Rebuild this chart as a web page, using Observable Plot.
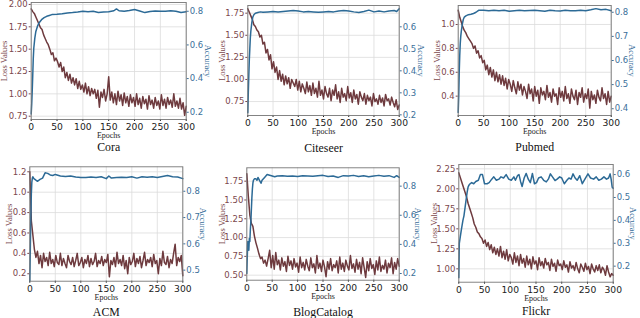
<!DOCTYPE html>
<html><head><meta charset="utf-8">
<script src="https://cdn.jsdelivr.net/npm/d3@7"></script>
<script src="https://cdn.jsdelivr.net/npm/@observablehq/plot@0.6"></script>
<style>
body{margin:0;background:#fff}
#wrap{position:relative;width:640px;height:318px;overflow:hidden;background:#fff}
#wrap svg{position:absolute}
</style>
</head><body><div id="wrap"></div>
<script>
// ---------- data ----------
const datasetNames = ["Cora","Citeseer","Pubmed","ACM","BlogCatalog","Flickr"];
const epochTicks = [0,50,100,150,200,250,300];
const lossEpochs = d3.range(0, 301, 3); // epoch index of each loss sample

const coraLoss = [1.95,1.92,1.90,1.86,1.82,1.78,1.74,1.72,1.66,1.62,
1.58,1.55,1.50,1.44,1.46,1.37,1.40,1.36,1.30,1.35,
1.25,1.30,1.18,1.24,1.15,1.22,1.12,1.18,1.10,1.17,
1.06,1.14,1.05,1.10,1.02,1.12,1.00,1.08,0.98,1.06,
1.00,1.05,0.95,1.04,0.85,1.02,0.96,1.05,0.92,1.00,
1.19,0.93,1.02,0.90,1.00,0.88,1.03,0.92,0.99,0.87,
1.01,0.90,0.97,0.86,0.99,0.90,0.96,0.86,1.00,0.88,
0.95,0.84,0.97,0.89,0.94,0.83,0.98,0.88,0.93,0.84,
0.96,0.87,0.92,0.83,0.99,0.87,0.94,0.84,0.96,0.88,
0.93,0.85,1.00,0.86,0.92,0.84,0.95,0.83,0.90,0.76,
0.86];
const coraAccEpochs = [0,1,2,3,4,5,7,9,12,15,20,25,30,35,40,50,60,70,80,90,100,110,120,130,140,150,160,165,170,180,190,200,210,220,230,240,250,260,270,280,290,300];
const coraAcc = [0.19,0.25,0.33,0.42,0.52,0.58,0.64,0.68,0.71,0.73,0.75,0.762,0.77,0.775,0.78,0.782,0.785,0.79,0.792,0.795,0.80,0.797,0.80,0.793,0.795,0.797,0.803,0.814,0.803,0.80,0.804,0.81,0.802,0.792,0.798,0.802,0.80,0.80,0.803,0.80,0.793,0.797];

const citeseerLoss = [1.80,1.76,1.72,1.68,1.62,1.60,1.56,1.54,1.48,1.50,
1.40,1.42,1.30,1.34,1.22,1.28,1.12,1.20,1.08,1.14,
1.00,1.10,0.98,1.06,0.94,1.04,0.95,1.02,0.90,1.00,
0.96,0.92,1.00,0.88,0.98,0.86,0.95,0.90,0.84,0.97,
0.86,0.93,0.82,0.96,0.84,0.90,0.80,0.98,0.82,0.88,
0.78,0.92,0.84,0.80,0.90,0.76,0.88,0.82,0.94,0.78,
0.86,0.74,0.90,0.80,0.84,0.76,0.92,0.79,0.85,0.74,
0.88,0.78,0.83,0.72,0.86,0.80,0.76,0.84,0.72,0.82,
0.76,0.80,0.70,0.84,0.75,0.78,0.72,0.82,0.74,0.79,
0.70,0.83,0.76,0.78,0.71,0.80,0.74,0.69,0.77,0.66,
0.71];
const citeseerAccEpochs = [0,1,2,3,4,5,6,8,10,12,15,20,25,30,40,50,60,70,80,90,100,110,120,130,140,150,160,170,180,190,200,210,220,230,240,250,260,270,280,290,295,300];
const citeseerAcc = [0.21,0.30,0.38,0.45,0.50,0.55,0.58,0.62,0.645,0.655,0.662,0.665,0.668,0.666,0.668,0.67,0.668,0.67,0.672,0.674,0.672,0.668,0.67,0.668,0.666,0.668,0.67,0.668,0.672,0.674,0.672,0.668,0.665,0.67,0.676,0.668,0.672,0.668,0.672,0.674,0.67,0.682];

const pubmedLoss = [1.12,1.06,1.02,0.98,0.95,0.93,0.90,0.88,0.86,0.84,
0.80,0.82,0.76,0.78,0.72,0.74,0.68,0.70,0.62,0.66,
0.58,0.64,0.56,0.62,0.53,0.60,0.52,0.58,0.50,0.57,
0.49,0.55,0.46,0.54,0.50,0.44,0.53,0.47,0.42,0.52,
0.45,0.50,0.41,0.48,0.44,0.38,0.50,0.42,0.46,0.36,
0.48,0.40,0.45,0.34,0.47,0.41,0.44,0.37,0.49,0.39,
0.43,0.35,0.46,0.40,0.42,0.33,0.47,0.39,0.44,0.36,
0.48,0.38,0.42,0.34,0.46,0.40,0.37,0.45,0.33,0.43,
0.39,0.47,0.35,0.42,0.38,0.46,0.30,0.44,0.37,0.41,
0.34,0.45,0.39,0.36,0.47,0.38,0.42,0.33,0.44,0.35,
0.40];
const pubmedAccEpochs = [0,1,2,3,4,5,6,8,10,12,15,20,25,30,35,40,50,60,70,80,90,100,110,120,130,140,150,160,170,180,190,200,210,220,230,240,250,260,270,280,290,300];
const pubmedAcc = [0.385,0.45,0.55,0.62,0.67,0.70,0.72,0.75,0.77,0.78,0.785,0.79,0.792,0.795,0.80,0.808,0.808,0.806,0.808,0.806,0.808,0.804,0.806,0.808,0.806,0.807,0.808,0.806,0.804,0.808,0.806,0.805,0.808,0.806,0.806,0.808,0.806,0.81,0.815,0.81,0.812,0.806];

const acmLoss = [1.20,0.72,0.58,0.44,0.36,0.42,0.30,0.38,0.26,0.40,
0.32,0.36,0.28,0.41,0.30,0.34,0.27,0.38,0.31,0.29,
0.40,0.28,0.35,0.30,0.26,0.38,0.32,0.29,0.36,0.27,
0.33,0.40,0.28,0.31,0.36,0.26,0.34,0.30,0.38,0.27,
0.35,0.29,0.32,0.40,0.27,0.33,0.30,0.37,0.28,0.34,
0.31,0.39,0.17,0.33,0.29,0.36,0.27,0.41,0.30,0.34,
0.28,0.38,0.25,0.33,0.20,0.36,0.29,0.32,0.40,0.27,
0.35,0.30,0.37,0.26,0.33,0.41,0.28,0.34,0.31,0.36,
0.27,0.39,0.30,0.33,0.20,0.35,0.28,0.42,0.31,0.29,
0.37,0.26,0.34,0.30,0.40,0.49,0.28,0.36,0.32,0.38,
0.18];
const acmAccEpochs = [0,1,2,3,4,5,6,8,10,12,15,18,20,25,30,35,40,45,50,60,70,80,90,100,110,120,130,140,150,155,160,170,180,190,200,210,220,230,240,250,260,270,280,290,300];
const acmAcc = [0.46,0.58,0.70,0.79,0.835,0.85,0.855,0.848,0.845,0.842,0.838,0.842,0.845,0.85,0.87,0.868,0.862,0.86,0.864,0.858,0.856,0.858,0.854,0.852,0.852,0.854,0.852,0.855,0.848,0.858,0.85,0.852,0.853,0.852,0.855,0.85,0.855,0.853,0.855,0.852,0.856,0.86,0.855,0.854,0.848];

const blogLoss = [1.85,1.55,1.30,1.19,1.15,1.02,0.93,0.86,0.78,0.72,
0.74,0.66,0.70,0.62,0.72,0.83,0.60,0.76,0.58,0.80,
0.64,0.70,0.57,0.73,0.62,0.68,0.55,0.75,0.63,0.69,
0.58,0.72,0.61,0.66,0.54,0.74,0.60,0.67,0.57,0.71,
0.62,0.56,0.73,0.60,0.65,0.53,0.76,0.59,0.66,0.55,
0.70,0.61,0.48,0.68,0.58,0.72,0.56,0.64,0.60,0.69,
0.53,0.74,0.58,0.66,0.55,0.70,0.62,0.57,0.76,0.59,
0.65,0.54,0.71,0.58,0.67,0.52,0.73,0.60,0.47,0.68,
0.56,0.72,0.59,0.64,0.51,0.69,0.57,0.74,0.55,0.63,
0.58,0.70,0.53,0.66,0.60,0.73,0.52,0.67,0.58,0.72,
0.62];
const blogAccEpochs = [0,1,2,3,4,5,6,7,8,9,10,11,12,13,15,18,20,22,25,28,30,35,40,45,50,55,60,70,80,90,100,110,120,130,140,150,160,170,180,190,200,210,220,230,240,250,260,270,280,290,295,300];
const blogAcc = [0.20,0.32,0.42,0.40,0.36,0.44,0.42,0.50,0.56,0.64,0.72,0.78,0.82,0.84,0.85,0.85,0.84,0.86,0.84,0.82,0.84,0.86,0.88,0.875,0.87,0.865,0.87,0.872,0.868,0.87,0.866,0.872,0.87,0.868,0.872,0.874,0.866,0.87,0.86,0.872,0.87,0.874,0.866,0.872,0.865,0.87,0.874,0.868,0.872,0.86,0.872,0.86];

const flickrLoss = [2.20,2.14,2.08,2.02,1.96,1.90,1.82,1.76,1.70,1.64,
1.56,1.52,1.46,1.44,1.40,1.38,1.32,1.36,1.28,1.33,
1.24,1.30,1.20,1.27,1.18,1.25,1.16,1.28,1.14,1.22,
1.12,1.24,1.10,1.18,1.14,1.06,1.20,1.08,1.16,1.04,
1.18,1.07,1.13,1.02,1.16,1.05,1.12,1.00,1.15,1.06,
1.10,0.99,1.14,1.04,1.09,1.01,1.13,1.05,1.08,0.98,
1.12,1.03,1.07,0.97,1.11,1.04,1.06,0.99,1.10,1.02,
1.05,0.96,1.09,1.01,1.04,0.98,1.08,1.00,0.95,1.06,
1.02,0.97,1.07,0.99,1.03,0.94,1.06,1.00,0.96,1.04,
0.98,1.05,0.95,1.02,0.99,0.92,1.04,0.96,0.90,0.94,
0.92];
const flickrAccEpochs = [0,1,3,5,8,10,13,16,18,20,22,25,29,33,38,42,46,50,55,59,64,68,73,78,82,87,92,97,102,107,110,114,117,120,123,127,131,135,139,143,147,151,155,160,165,170,174,178,182,187,191,196,200,205,210,214,218,222,226,230,235,240,245,251,256,262,267,272,277,282,287,291,294,296,298,300];
const flickrAcc = [0.15,0.30,0.33,0.36,0.40,0.42,0.47,0.52,0.545,0.555,0.56,0.565,0.56,0.57,0.575,0.60,0.60,0.56,0.56,0.565,0.58,0.59,0.575,0.58,0.59,0.585,0.60,0.58,0.575,0.59,0.575,0.595,0.60,0.57,0.548,0.585,0.605,0.58,0.565,0.605,0.56,0.565,0.585,0.59,0.575,0.568,0.58,0.603,0.59,0.574,0.58,0.59,0.585,0.56,0.575,0.585,0.58,0.603,0.585,0.575,0.595,0.56,0.58,0.603,0.585,0.58,0.59,0.575,0.58,0.59,0.58,0.585,0.603,0.58,0.545,0.54];

// tick labels
const coraLossTicks = [0.75,1.00,1.25,1.50,1.75,2.00];
const coraAccTicks = [0.2,0.4,0.6,0.8];
const citeseerLossTicks = [0.75,1.00,1.25,1.50,1.75];
const citeseerAccTicks = [0.2,0.3,0.4,0.5,0.6];
const pubmedLossTicks = [0.4,0.6,0.8,1.0];
const pubmedAccTicks = [0.4,0.5,0.6,0.7,0.8];
const acmLossTicks = [0.2,0.4,0.6,0.8,1.0,1.2];
const acmAccTicks = [0.5,0.6,0.7,0.8];
const blogLossTicks = [0.50,0.75,1.00,1.25,1.50,1.75];
const blogAccTicks = [0.2,0.4,0.6,0.8];
const flickrLossTicks = [1.00,1.25,1.50,1.75,2.00,2.25];
const flickrAccTicks = [0.2,0.3,0.4,0.5,0.6];

// ---------- layout / scales ----------
const panels = [
  {name:datasetNames[0], cx:0,   cy:0,   fx0:30.7,  fx1:185.7, fy0:2,     fy1:119,   lossDom:[0.713,2.022], accDom:[0.157,0.852], loss:coraLoss, accE:coraAccEpochs, acc:coraAcc, lt:coraLossTicks, ld:2, at:coraAccTicks, ldx:-26.7, rdx:21.3, tdy:27.7},
  {name:datasetNames[1], cx:213, cy:0,   fx0:247.3, fx1:398.7, fy0:5,     fy1:115,   lossDom:[0.592,1.837], accDom:[0.197,0.697], loss:citeseerLoss, accE:citeseerAccEpochs, acc:citeseerAcc, lt:citeseerLossTicks, ld:2, at:citeseerAccTicks, ldx:-26, rdx:21.6, tdy:32.3},
  {name:datasetNames[2], cx:425, cy:0,   fx0:457.7, fx1:610.7, fy0:5,     fy1:115,   lossDom:[0.238,1.159], accDom:[0.372,0.828], loss:pubmedLoss, accE:pubmedAccEpochs, acc:pubmedAcc, lt:pubmedLossTicks, ld:1, at:pubmedAccTicks, ldx:-21, rdx:21, tdy:31.7},
  {name:datasetNames[3], cx:0,   cy:159, fx0:29.3,  fx1:182.3, fy0:166.3, fy1:280.7, lossDom:[0.127,1.249], accDom:[0.458,0.893], loss:acmLoss, accE:acmAccEpochs, acc:acmAcc, lt:acmLossTicks, ld:1, at:acmAccTicks, ldx:-21, rdx:20, tdy:31},
  {name:datasetNames[4], cx:213, cy:159, fx0:246.3, fx1:398.7, fy0:167.3, fy1:279.7, lossDom:[0.433,1.928], accDom:[0.154,0.926], loss:blogLoss, accE:blogAccEpochs, acc:blogAcc, lt:blogLossTicks, ld:2, at:blogAccTicks, ldx:-25, rdx:18.3, tdy:32},
  {name:datasetNames[5], cx:425, cy:159, fx0:458.3, fx1:612.7, fy0:164,   fy1:281.7, lossDom:[0.833,2.304], accDom:[0.130,0.644], loss:flickrLoss, accE:flickrAccEpochs, acc:flickrAcc, lt:flickrLossTicks, ld:2, at:flickrAccTicks, ldx:-25, rdx:19.6, tdy:29}
];

const W = 213, H = 159;
const lossColor = "#6e3a3e", lossTick = "#7b474c";
const accColor = "#2c6a96", accTick = "#3b6f9a";
const serif = "Liberation Serif";
const wrap = document.getElementById("wrap");

for (const p of panels) {
  const margins = {
    marginLeft: p.fx0 - p.cx, marginRight: p.cx + W - p.fx1,
    marginTop: p.fy0 - p.cy, marginBottom: p.cy + H - p.fy1
  };
  const lossData = lossEpochs.map((e, i) => ({e, v: p.loss[i]}));
  const accData = p.accE.map((e, i) => ({e, v: p.acc[i]}));
  const style = {background: "transparent", overflow: "visible", fontFamily: "DejaVu Sans"};

  const s1 = Plot.plot({
    width: W, height: H, ...margins, style,
    x: {domain: [0, 300]},
    y: {domain: p.lossDom},
    marks: [
      Plot.gridX(epochTicks, {stroke: "#dcdcdc", strokeOpacity: 1, strokeWidth: 0.8}),
      Plot.gridY(p.lt, {stroke: "#dcdcdc", strokeOpacity: 1, strokeWidth: 0.8}),
      Plot.line(lossData, {x: "e", y: "v", stroke: lossColor, strokeWidth: 1.5}),
      Plot.axisX(epochTicks, {tickSize: 2, tickPadding: 1.8, fontSize: 9.2, color: "#222", label: null}),
      Plot.axisY(p.lt, {anchor: "left", tickSize: 2, tickPadding: 1.5, fontSize: 8.5, color: lossTick, label: null, tickFormat: d => d.toFixed(p.ld)}),
      Plot.text(["Loss Values"], {text: d => d, frameAnchor: "left", textAnchor: "middle", lineAnchor: "middle", dx: p.ldx, rotate: -90, fontFamily: serif, fontSize: 8.5, fill: lossTick}),
      Plot.text(["Epochs"], {text: d => d, frameAnchor: "bottom", textAnchor: "middle", lineAnchor: "middle", dy: 16, fontFamily: serif, fontSize: 8, fill: "#222"}),
      Plot.text([p.name], {text: d => d, frameAnchor: "bottom", textAnchor: "middle", lineAnchor: "middle", dy: p.tdy, fontFamily: serif, fontSize: 11.8, fill: "#111"})
    ]
  });
  const s2 = Plot.plot({
    width: W, height: H, ...margins, style,
    x: {domain: [0, 300], axis: null},
    y: {domain: p.accDom},
    marks: [
      Plot.line(accData, {x: "e", y: "v", stroke: accColor, strokeWidth: 1.5}),
      Plot.axisY(p.at, {anchor: "right", tickSize: 2, tickPadding: 1.5, fontSize: 8.5, color: accTick, label: null, tickFormat: d => d.toFixed(1)}),
      Plot.text(["Accuracy"], {text: d => d, frameAnchor: "right", textAnchor: "middle", lineAnchor: "middle", dx: p.rdx, rotate: 90, fontFamily: serif, fontSize: 8.5, fill: accTick}),
      Plot.frame({stroke: "#777", strokeWidth: 0.9})
    ]
  });
  for (const s of [s1, s2]) {
    s.style.left = p.cx + "px";
    s.style.top = p.cy + "px";
    wrap.appendChild(s);
  }
}
</script>
</body></html>
